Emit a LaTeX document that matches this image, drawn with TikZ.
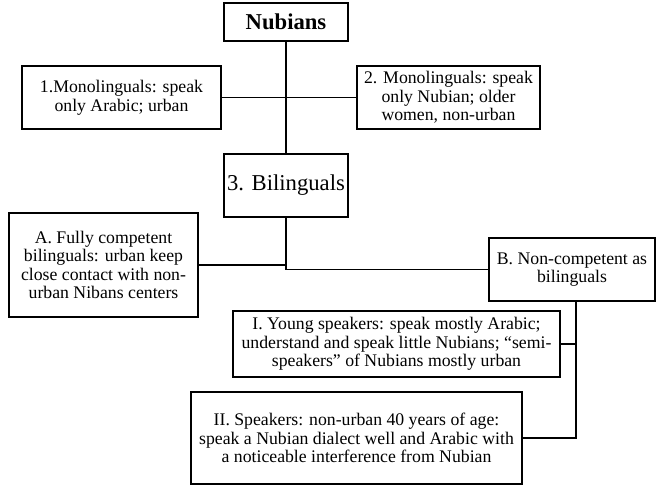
\documentclass[tikz,border=0pt]{standalone}
\usepackage{fontspec}
\setmainfont{Liberation Serif}
\usepackage{tikz}

\begin{document}
\begin{tikzpicture}[x=0.75pt, y=-0.75pt, line width=0.9pt,
  box/.style={draw, align=center, inner sep=1pt, font=\fontsize{13.3pt}{13.9pt}\selectfont},
  bigbox/.style={draw, align=center, inner sep=1pt, font=\fontsize{17pt}{18pt}\selectfont}]

\useasboundingbox (0,0) rectangle (656,485);

\node[bigbox, minimum width=93pt, minimum height=28.5pt] (nub) at (286,22) {\bfseries Nubians};
\node[box, minimum width=149.25pt, minimum height=47.25pt] (mono1) at (121.5,97.5) {1.Monolinguals: speak\\only Arabic; urban};
\node[box, minimum width=137.25pt, minimum height=47.25pt] (mono2) at (448.5,97.5) {2. Monolinguals: speak\\only Nubian; older\\women, non-urban};
\node[bigbox, minimum width=93pt, minimum height=47.25pt] (bil) at (286,185.5) {3. Bilinguals};
\node[box, minimum width=141.75pt, minimum height=78pt] (full) at (103.5,265) {A. Fully competent\\bilinguals: urban keep\\close contact with non-\\urban Nibans centers};
\node[box, minimum width=124.5pt, minimum height=47.25pt] (noncomp) at (572,269.5) {B. Non-competent as\\bilinguals};
\node[box, minimum width=245.25pt, minimum height=49.5pt] (young) at (396.5,344) {I. Young speakers: speak mostly Arabic;\\understand and speak little Nubians; “semi-\\speakers” of Nubians mostly urban};
\node[box, minimum width=248.25pt, minimum height=69pt] (old) at (356.5,438) {II. Speakers: non-urban 40 years of age:\\speak a Nubian dialect well and Arabic with\\a noticeable interference from Nubian};

\coordinate (bdown) at ([xshift=3pt]noncomp.south);

\draw (nub.south) -- (bil.north);
\draw (mono1.east) -- (mono2.west);
\draw (bil.south) |- (noncomp.west);
\draw (full.east) -- (full.east -| bil.south);
\draw (bdown) |- (old.east);
\draw (young.east) -- (young.east -| bdown);
\end{tikzpicture}
\end{document}
